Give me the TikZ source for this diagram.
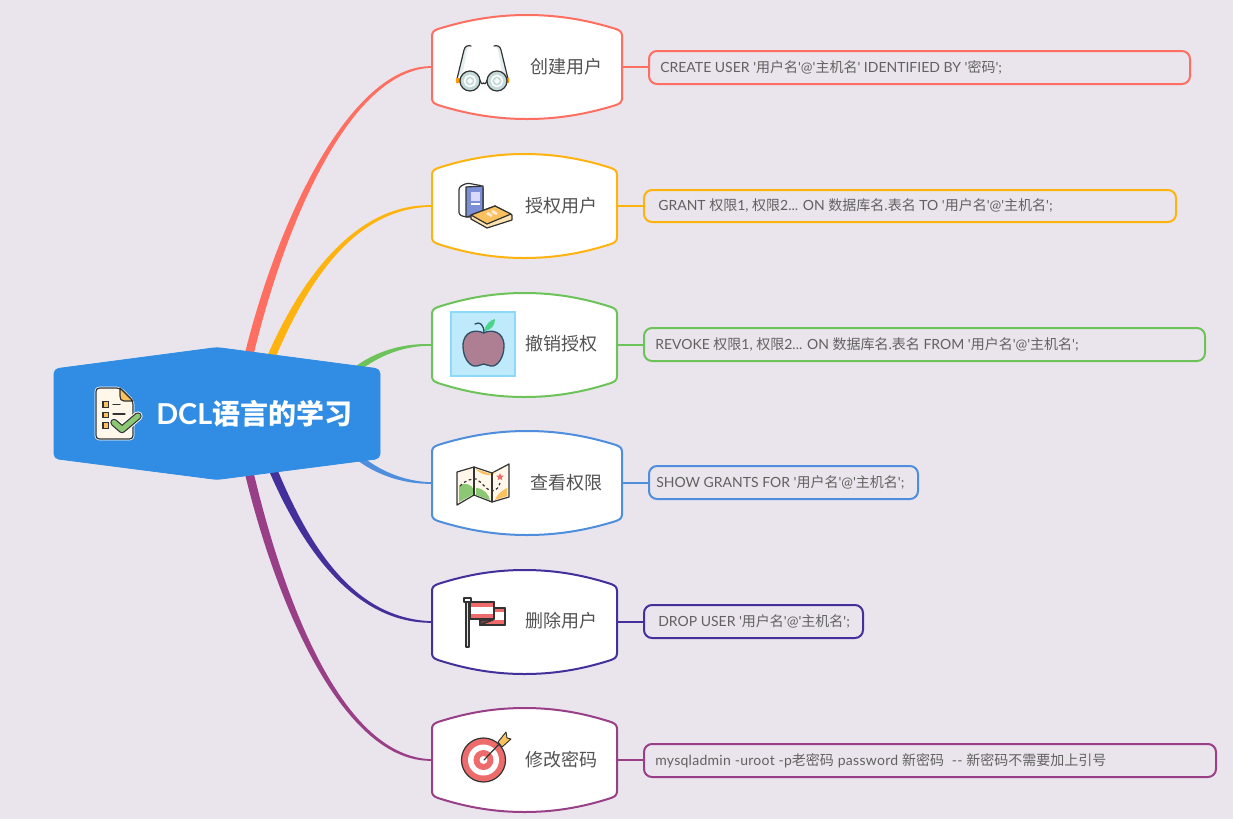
\documentclass[tikz,border=0pt]{standalone}
\usepackage{fontspec}
\setmainfont{Lato}[Ligatures=NoCommon]
\newfontfamily\latf{Lato}
\newfontfamily\latw{Lato}[LetterSpace=2]
\newfontfamily\zhf{Noto Sans CJK SC}
\newcommand\zh[1]{{\zhf #1}}
\usetikzlibrary{calc,shapes.geometric}
\definecolor{bgc}{HTML}{EAE5ED}
\definecolor{cA}{HTML}{FF6F61}
\definecolor{cB}{HTML}{FFB30F}
\definecolor{cC}{HTML}{6CC35A}
\definecolor{cD}{HTML}{4F8EDC}
\definecolor{cE}{HTML}{43309B}
\definecolor{cF}{HTML}{983F87}
\definecolor{rootc}{HTML}{308DE3}
\definecolor{ink}{HTML}{333333}
\definecolor{flagr}{HTML}{EE6B6B}
\definecolor{paper}{HTML}{FFF8EA}
\definecolor{gold}{HTML}{FBC15E}
\definecolor{leafg}{HTML}{8CC874}
\definecolor{lens}{HTML}{C4DADA}
\definecolor{bookb}{HTML}{7B8FD8}
\definecolor{applef}{HTML}{AE7F93}
\definecolor{appleo}{HTML}{2F5068}
\tikzset{
  x=0.75pt,y=-0.75pt,
  anchorbox/.style={inner sep=0pt,outer sep=0pt,rectangle},
  toplabel/.style={anchor=west,inner sep=0pt,text=black!68,font=\fontsize{13.5pt}{16pt}\selectfont},
  detailbox/.style={draw=#1,line width=1.5pt,rounded corners=6pt,inner sep=0pt,outer sep=0pt,rectangle},
  detailtext/.style={anchor=west,inner sep=0pt,text=black!62,font=\fontsize{10.5pt}{12pt}\latf},
  twig/.style={draw=#1,line width=1.5pt},
  icon/.style={draw=ink,line width=0.9pt,line join=round,line cap=round},
}
% name, centre x, centre y, half width, colour
\newcommand\topicshape[5]{%
  \node[anchorbox,minimum width=1.5*#4 pt,minimum height=78pt] (#1) at (#2,#3) {};
  \draw[draw=#5,fill=white,line width=1.5pt]
    ($(#2,#3)+(-#4,-31)$)
    .. controls ($(#2,#3)+(-#4,-35)$) and ($(#2,#3)+(-#4+2,-36.5)$) .. ($(#2,#3)+(-#4+6,-38)$)
    .. controls ($(#2,#3)+(-0.6*#4,-48)$) and ($(#2,#3)+(-0.3*#4,-52)$) .. ($(#2,#3)+(0,-52)$)
    .. controls ($(#2,#3)+(0.3*#4,-52)$) and ($(#2,#3)+(0.6*#4,-48)$) .. ($(#2,#3)+(#4-6,-38)$)
    .. controls ($(#2,#3)+(#4-2,-36.5)$) and ($(#2,#3)+(#4,-35)$) .. ($(#2,#3)+(#4,-31)$)
    -- ($(#2,#3)+(#4,31)$)
    .. controls ($(#2,#3)+(#4,35)$) and ($(#2,#3)+(#4-2,36.5)$) .. ($(#2,#3)+(#4-6,38)$)
    .. controls ($(#2,#3)+(0.6*#4,48)$) and ($(#2,#3)+(0.3*#4,52)$) .. ($(#2,#3)+(0,52)$)
    .. controls ($(#2,#3)+(-0.3*#4,52)$) and ($(#2,#3)+(-0.6*#4,48)$) .. ($(#2,#3)+(-#4+6,38)$)
    .. controls ($(#2,#3)+(-#4+2,36.5)$) and ($(#2,#3)+(-#4,35)$) .. ($(#2,#3)+(-#4,31)$)
    -- cycle;
}
% colour, start, control 1, control 2, target node, half-width vector at the start, half width at control 2
\newcommand\branch[8]{%
  \fill[#1] ($(#2)+(#6,#7)$)
    .. controls ($(#3)+(#6,#7)$) and ($(#4)+(0,-#8)$) .. ($(#5.west)+(0,-0.8)$)
    -- ($(#5.west)+(0,0.8)$)
    .. controls ($(#4)+(0,#8)$) and ($(#3)-(#6,#7)$) .. ($(#2)-(#6,#7)$) -- cycle;
}
\begin{document}
\begin{tikzpicture}
\useasboundingbox (0,0) rectangle (1233,819);
\fill[bgc] (0,0) rectangle (1233,819);

\node[anchorbox,minimum width=246pt,minimum height=99.75pt] (root) at (217,413.5) {};
\topicshape{t1}{527}{67}{95}{cA}
\topicshape{t2}{524.5}{206}{92.5}{cB}
\topicshape{t3}{524.5}{345}{92.5}{cC}
\topicshape{t4}{527}{483}{95}{cD}
\topicshape{t5}{524.5}{622}{92.5}{cE}
\topicshape{t6}{524.5}{760}{92.5}{cF}

% tapered main branches
\branch{cA}{245,372}{278,225}{350,67}{t1}{-4.5}{0}{2.6}
\branch{cB}{265,372}{298,290}{350,205.5}{t2}{-4.5}{0}{2.4}
\branch{cC}{352,373}{372,356}{400,344}{t3}{-1.8}{-2.4}{1.4}
\branch{cD}{352,452}{372,470}{400,483}{t4}{1.8}{-2.4}{1.4}
\branch{cE}{265,450}{300,540}{350,621}{t5}{4.5}{0}{2.4}
\branch{cF}{245,455}{280,610}{345,760}{t6}{4.5}{0}{2.6}

% root shape
\draw[draw=rootc,fill=rootc,line width=0.6pt,line join=round,rounded corners=3.5pt]
  (54,369) -- (217,347.5) -- (380,369) -- (380,458.5) -- (217,479.5) -- (54,458.5) -- cycle;

% detail boxes
\node[detailbox=cA,minimum width=0.75*541pt,minimum height=0.75*33pt] (d1) at (919.5,67.5) {};
\node[detailbox=cB,minimum width=0.75*532pt,minimum height=0.75*32pt] (d2) at (910,206) {};
\node[detailbox=cC,minimum width=0.75*561pt,minimum height=0.75*33pt] (d3) at (924.5,344.5) {};
\node[detailbox=cD,minimum width=0.75*269pt,minimum height=0.75*33pt] (d4) at (783.5,482.5) {};
\node[detailbox=cE,minimum width=0.75*219pt,minimum height=0.75*33pt] (d5) at (753.5,621.5) {};
\node[detailbox=cF,minimum width=0.75*572pt,minimum height=0.75*33pt] (d6) at (930,760.5) {};

\draw[twig=cA] (t1.east) -- (t1.east -| d1.west);
\draw[twig=cB] (t2.east) -- (t2.east -| d2.west);
\draw[twig=cC] (t3.east) -- (t3.east -| d3.west);
\draw[twig=cD] (t4.east) -- (t4.east -| d4.west);
\draw[twig=cE] (t5.east) -- (t5.east -| d5.west);
\draw[twig=cF] (t6.east) -- (t6.east -| d6.west);

% detail texts
\node[detailtext] (x1) at (660,67.5) {CREATE USER '\zh{用户名}'@'\zh{主机名}' IDENTIFIED BY '\zh{密码}';};
\node[detailtext] (x2) at (658,206) {GRANT \zh{权限}1, \zh{权限}2... ON \zh{数据库名}.\zh{表名} TO '\zh{用户名}'@'\zh{主机名}';};
\node[detailtext] (x3) at (655,344.5) {REVOKE \zh{权限}1, \zh{权限}2... ON \zh{数据库名}.\zh{表名} FROM '\zh{用户名}'@'\zh{主机名}';};
\node[detailtext] (x4) at (656,482.5) {SHOW GRANTS FOR '\zh{用户名}'@'\zh{主机名}';};
\node[detailtext] (x5) at (658,621.5) {DROP USER '\zh{用户名}'@'\zh{主机名}';};
\node[detailtext] (x6) at (655,760.5) {\latw mysqladmin -uroot -p\zh{老密码} password \zh{新密码}\ \ -- \zh{新密码不需要加上引号}};

% topic labels
\node[toplabel] (l1) at (530,67) {\zhf 创建用户};
\node[toplabel] (l2) at (525.5,206) {\zhf 授权用户};
\node[toplabel] (l3) at (525.5,344) {\zhf 撤销授权};
\node[toplabel] (l4) at (530,483) {\zhf 查看权限};
\node[toplabel] (l5) at (525.5,621) {\zhf 删除用户};
\node[toplabel] (l6) at (525.5,760) {\zhf 修改密码};

% root label
\node[anchor=west,inner sep=0pt,text=white,font=\fontsize{21pt}{25pt}\bfseries] (rl) at (156,413.5) {{\fontsize{21.6pt}{25pt}\latf\bfseries DCL}{\zhf\bfseries 语言的学习}};

%%% checklist icon
\draw[white,line width=2pt,rounded corners=2.5pt,line join=round] (96,388) -- (120,388) -- (133,401) -- (133,439) -- (96,439) -- cycle;
\draw[icon,fill=paper,rounded corners=2.5pt] (96,388) -- (120,388) -- (133,401) -- (133,439) -- (96,439) -- cycle;
\draw[icon,fill=gold] (120,388) -- (133,401) -- (124,401) .. controls (121,401) and (120,399) .. (120,396) -- cycle;
\foreach \yy in {404.5,415,425.5}{\draw[ink,fill=gold,line width=0.8pt] (103,\yy-2.7) rectangle (108.4,\yy+2.7);}
\draw[icon] (113,404.5) -- (120,404.5) (113,414) -- (125,414) (113,424.5) -- (115,424.5);
\draw[white,line width=7pt,line cap=round,line join=round] (114,422.5) -- (122,429.5) -- (138,416);
\draw[ink,line width=5.6pt,line cap=round,line join=round] (114,422.5) -- (122,429.5) -- (138,416);
\draw[leafg,line width=3.8pt,line cap=round,line join=round] (114,422.5) -- (122,429.5) -- (138,416);

%%% glasses
\fill[lens!45!white] (458,76) -- (465,47) -- (470,46) -- (467,50) -- (463,72) -- cycle;
\fill[lens!45!white] (507,76) -- (500,47) -- (495,46) -- (498,50) -- (502,72) -- cycle;
\draw[icon] (457,79) -- (464,50) .. controls (465,46) and (468,45) .. (471,46);
\draw[icon] (508,79) -- (501,50) .. controls (500,46) and (497,45) .. (494,46);
\draw[icon] (480,80) .. controls (481,85) and (483,84) .. (483.5,83) .. controls (484,84) and (486,85) .. (487,80);
\fill[orange!80!yellow] (456,78) rectangle (460,83) (505,78) rectangle (509,83);
\draw[icon,fill=lens] (470,81) circle[radius=10];
\draw[icon,fill=lens] (497,81) circle[radius=10];
\draw[white,line width=1.2pt] (470,81) circle[radius=1.8] (470,81) circle[radius=5.5];
\draw[white,line width=1.2pt] (497,81) circle[radius=1.8] (497,81) circle[radius=5.5];

%%% books
\draw[icon,fill=white,rounded corners=2pt] (467,183) -- (459,187) -- (459,215) -- (466,217) -- (483,217) -- (483,186) -- cycle;
\draw[icon,fill=bookb] (466,187) -- (483,186) -- (483,213) -- (466,217) -- cycle;
\fill[white!85!blue] (471,192) rectangle (480,201);
\draw[white,line width=0.8pt] (471,204) -- (480,204);
\draw[icon,fill=paper!60!gold] (471,215) -- (495,206) -- (512,215) -- (512,220) -- (487,228) -- (471,219) -- cycle;
\draw[icon,fill=gold] (471,215) -- (495,206) -- (511,214) -- (487,224) -- cycle;
\draw[white!85!orange,line width=2pt] (487,213) -- (492,216) (492,211) -- (497,214);

%%% apple
\draw[draw=cyan!45!white,fill=cyan!25!white,line width=0.8pt] (451,312) rectangle (515,376);
\fill[cC!70!cyan] (484,331) .. controls (486,323) and (491,320) .. (495,319) .. controls (495,325) and (492,330) .. (484,331) -- cycle;
\draw[draw=appleo,line width=1pt,fill=applef,line join=round]
  (483.5,333) .. controls (476,329) and (463,331) .. (463,346) .. controls (463,358) and (470,367) .. (476,366) .. controls (480,366) and (481,364) .. (483.5,364) .. controls (486,364) and (488,366) .. (491,366) .. controls (497,367) and (504,358) .. (504,346) .. controls (504,331) and (491,329) .. (483.5,333) -- cycle;
\draw[draw=appleo,line width=1pt,line cap=round] (475,324) .. controls (480,321) and (484,325) .. (484,333);

%%% map
\draw[icon,fill=paper] (457,472) -- (474,467) -- (492,473) -- (509,464) -- (509,497) -- (492,502) -- (474,495) -- (457,505) -- cycle;
\fill[leafg] (459,486) .. controls (464,482) and (472,484) .. (474,490) -- (474,494) -- (459,502) -- cycle;
\fill[leafg] (476,488) .. controls (484,488) and (489,495) .. (490,500) -- (476,495) -- cycle;
\fill[gold] (476,469) -- (491,474) -- (495,472) .. controls (496,476) and (482,477) .. (476,469) -- cycle;
\fill[gold] (507,488) -- (507,496) -- (495,500) .. controls (497,494) and (503,490) .. (507,488) -- cycle;
\draw[icon] (474,467) -- (474,495) (492,473) -- (492,502);
\draw[ink,line width=0.9pt,dash pattern=on 2pt off 2pt] (460,486) .. controls (466,480) and (470,479) .. (476,479) .. controls (482,482) and (486,490) .. (492,491) .. controls (497,491) and (499,486) .. (500,483);
\node[anchor=center,inner sep=0pt,star,star points=5,star point ratio=2.2,minimum size=6pt,fill=flagr] (mapstar) at (500,477) {};

%%% flags
\draw[icon,fill=black!12!white,line width=0.8pt] (466,598) rectangle (469,647);
\draw[icon,fill=white,line width=0.8pt] (464,598) rectangle (471,602);
\draw[icon,fill=flagr] (480,608) rectangle (505,625);
\fill[white] (480,612) rectangle (505,619.5);
\draw[icon] (480,608) rectangle (505,625);
\draw[icon,fill=ink!70!flagr] (480,625) -- (493,620) -- (480,620) -- cycle;
\draw[icon,fill=flagr] (470,602) rectangle (494,619);
\fill[white] (470.5,606.5) rectangle (493.5,613.5);
\draw[icon] (470,602) rectangle (494,619);

%%% target
\draw[icon,fill=flagr] (483.5,760) circle[radius=22];
\fill[white] (483.5,760) circle[radius=15.5];
\fill[flagr] (483.5,760) circle[radius=10];
\fill[white] (483.5,760) circle[radius=4];
\draw[icon] (484,760) -- (502,741);
\draw[draw=ink,fill=gold,line width=0.7pt,line join=round] (498,742) -- (506,732) -- (507,738) -- (511,739) -- (502,747) -- cycle;
\end{tikzpicture}
\end{document}
